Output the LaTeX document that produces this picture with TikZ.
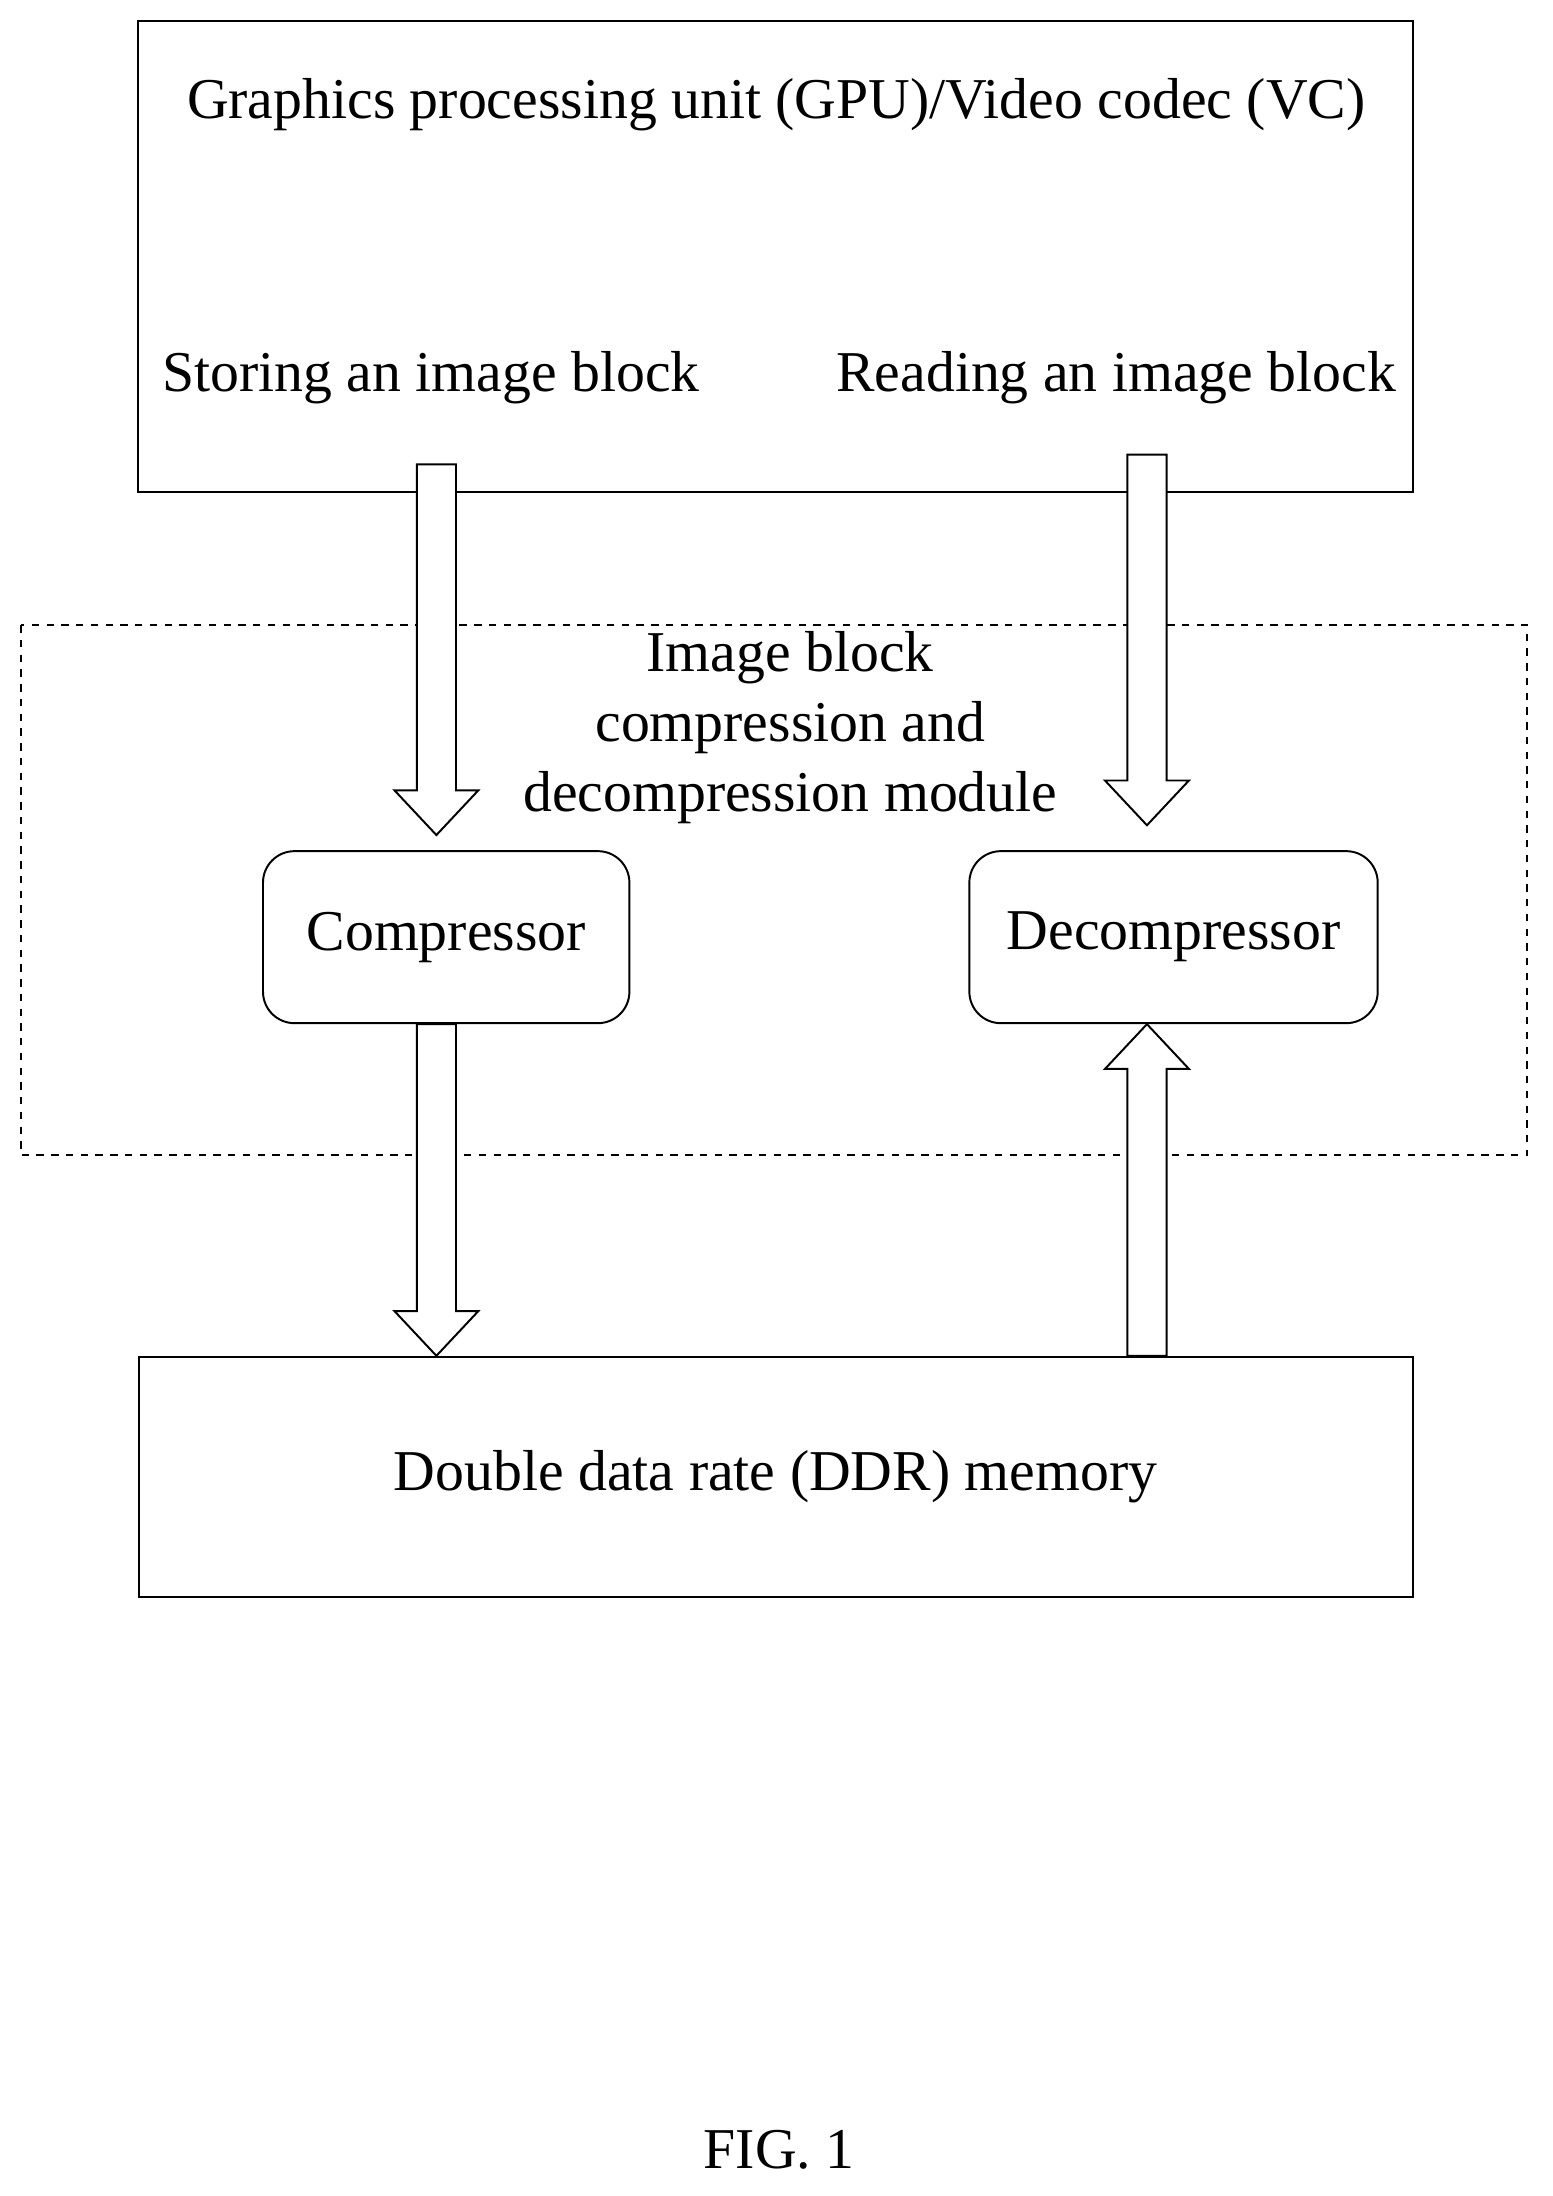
\documentclass[tikz,border=0pt]{standalone}
\usepackage{fontspec}
\setmainfont{Liberation Serif}
\usetikzlibrary{calc,positioning}
\tikzset{
    txt/.style={font=\fontsize{23.5}{30}\selectfont, align=center},
    block/.style={draw, thick, rectangle},
    unit/.style={draw, thick, rounded corners=0.45cm},
    fat/.style={draw, thick, fill=white}
}
% hollow vertical arrow from #1 to #2
\newcommand\fatarrow[2]{
    \draw[fat] let \p1=(#1), \p2=(#2), \n1={sign(\y2-\y1)} in
        ({\x1-0.28cm},\y1) -- ({\x1-0.28cm},{\y2-\n1*0.64cm}) -- ({\x1-0.6cm},{\y2-\n1*0.64cm})
        -- (\x1,\y2) -- ({\x1+0.6cm},{\y2-\n1*0.64cm}) -- ({\x1+0.28cm},{\y2-\n1*0.64cm})
        -- ({\x1+0.28cm},\y1) -- cycle;
}
\begin{document}
\begin{tikzpicture}[x=0.02cm, y=-0.02cm]
    \useasboundingbox (0,0) rectangle (1110,1570);

    \draw[block] (99,15) rectangle (1010,352);
    \node[txt] (gpu) at (555,75) {Graphics processing unit (GPU)/Video codec (VC)};
    \node[txt] (store) at (308,270) {Storing an image block};
    \node[txt] (read) at (798,270) {Reading an image block};

    \draw[thick, dashed] (15,447) rectangle (1092,826);
    \node[txt, font=\fontsize{23.5}{28.5}\selectfont] (module) at (565,520) {Image block\\compression and\\decompression module};

    \node[unit, txt, minimum width=5.24cm, minimum height=2.46cm] (comp) at (319,670) {Compressor};
    \node[unit, txt, minimum width=5.84cm, minimum height=2.46cm] (decomp) at (839,670) {Decompressor};

    \node[block, txt, minimum width=18.22cm, minimum height=3.44cm] (ddr) at (554.5,1056) {Double data rate (DDR) memory};

    \node[txt] (fig) at (557,1537) {FIG. 1};

    \coordinate (s1) at (312,332);
    \coordinate (e1) at (312,597);
    \coordinate (s2) at (820,325);
    \coordinate (e2) at (820,590);
    \fatarrow{s1}{e1}
    \fatarrow{s2}{e2}
    \fatarrow{comp.south -| s1}{ddr.north -| s1}
    \fatarrow{ddr.north -| s2}{decomp.south -| s2}
\end{tikzpicture}
\end{document}
